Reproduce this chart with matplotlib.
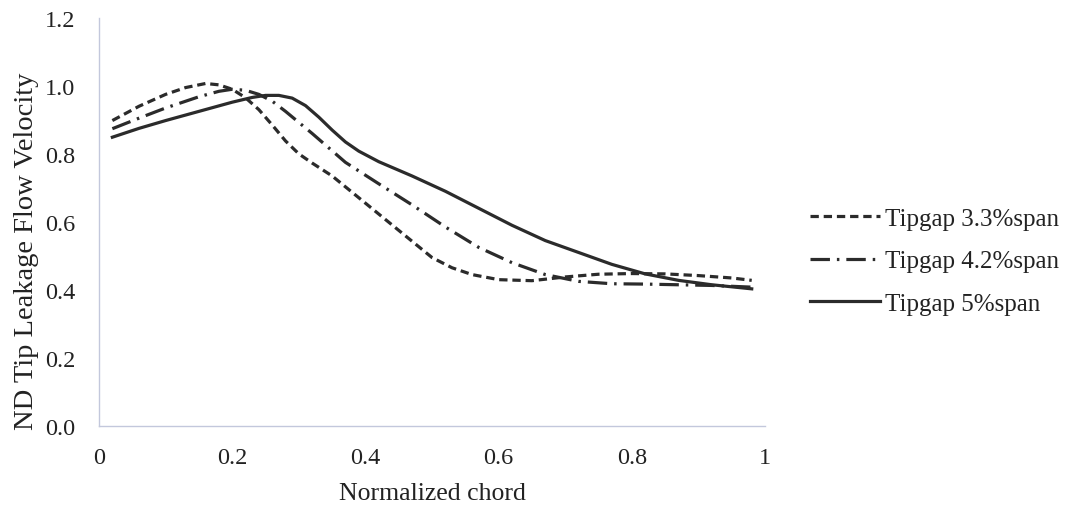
import matplotlib.pyplot as plt

# Tipgap 3.3% span (dashed)
x_33 = [0.02, 0.06, 0.10, 0.13, 0.16, 0.18, 0.20, 0.22, 0.24, 0.26, 0.28, 0.30, 0.32,
        0.35, 0.40, 0.45, 0.50, 0.53, 0.56, 0.60, 0.65, 0.70, 0.75, 0.80, 0.85, 0.90,
        0.95, 0.98]
y_33 = [0.898, 0.940, 0.975, 0.995, 1.007, 1.003, 0.990, 0.965, 0.930, 0.885, 0.838, 0.800, 0.773,
        0.735, 0.655, 0.575, 0.495, 0.465, 0.445, 0.430, 0.427, 0.438, 0.446, 0.448, 0.447, 0.442,
        0.435, 0.428]

# Tipgap 4.2% span (dash-dot)
x_42 = [0.02, 0.06, 0.10, 0.15, 0.18, 0.20, 0.22, 0.24, 0.26, 0.28, 0.32, 0.37, 0.42,
        0.47, 0.52, 0.57, 0.62, 0.67, 0.72, 0.77, 0.82, 0.87, 0.92, 0.98]
y_42 = [0.874, 0.905, 0.935, 0.968, 0.984, 0.990, 0.987, 0.975, 0.955, 0.925, 0.860, 0.775, 0.712,
        0.650, 0.585, 0.525, 0.480, 0.445, 0.425, 0.418, 0.417, 0.415, 0.413, 0.408]

# Tipgap 5% span (solid)
x_50 = [0.02, 0.06, 0.10, 0.15, 0.20, 0.23, 0.25, 0.27, 0.29, 0.31, 0.33, 0.35, 0.37,
        0.39, 0.42, 0.47, 0.52, 0.57, 0.62, 0.67, 0.72, 0.77, 0.82, 0.87, 0.92, 0.98]
y_50 = [0.849, 0.875, 0.898, 0.925, 0.952, 0.966, 0.972, 0.972, 0.964, 0.942, 0.908, 0.870, 0.835,
        0.808, 0.777, 0.735, 0.690, 0.640, 0.590, 0.545, 0.510, 0.475, 0.447, 0.428, 0.415, 0.403]

labels = ['Tipgap 3.3%span', 'Tipgap 4.2%span', 'Tipgap 5%span']
xticks = [0, 0.2, 0.4, 0.6, 0.8, 1]
xtick_labels = ['0', '0.2', '0.4', '0.6', '0.8', '1']
yticks = [0.0, 0.2, 0.4, 0.6, 0.8, 1.0, 1.2]

plt.rcParams['font.family'] = 'Liberation Serif'
plt.rcParams['lines.scale_dashes'] = False

fig = plt.figure(figsize=(10.73, 5.10), dpi=100)
ax = fig.add_axes([0.0923, 0.163, 0.6207, 0.8])

col = '#2b2b2b'
ax.plot(x_33, y_33, color=col, lw=2.3, linestyle=(0, (6, 3.5)), label=labels[0])
ax.plot(x_42, y_42, color=col, lw=2.3, linestyle=(0, (14, 5, 1.8, 5)), label=labels[1])
ax.plot(x_50, y_50, color=col, lw=2.3, linestyle='-', label=labels[2])

ax.set_xlim(0, 1)
ax.set_ylim(0, 1.2)
ax.set_xticks(xticks)
ax.set_xticklabels(xtick_labels)
ax.set_yticks(yticks)
ax.set_yticklabels(['%.1f' % v for v in yticks])
ax.tick_params(length=0, labelsize=17.5, colors='#222222')
ax.tick_params(axis='x', pad=15)
ax.tick_params(axis='y', pad=17)

for s in ['top', 'right']:
    ax.spines[s].set_visible(False)
for s in ['left', 'bottom']:
    ax.spines[s].set_color('#c3c8dc')
    ax.spines[s].set_linewidth(1.0)

ax.set_xlabel('Normalized chord', fontsize=18.5, color='#222222', labelpad=10)
ax.set_ylabel('ND Tip Leakage Flow Velocity', fontsize=20.5, color='#222222')
ax.yaxis.set_label_coords(-0.09, 0.43)

ax.legend(loc='center left', bbox_to_anchor=(1.034, 0.404), frameon=False, fontsize=18,
          handlelength=2.8, handletextpad=0.2, labelspacing=0.8, labelcolor='#222222')

fig.savefig('out.png', dpi=100)
